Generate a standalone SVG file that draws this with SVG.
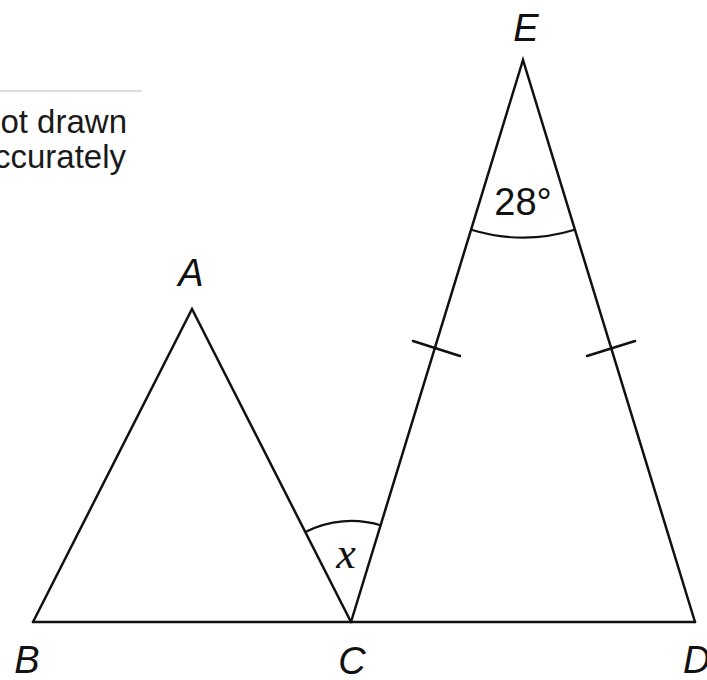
<svg xmlns="http://www.w3.org/2000/svg" width="707" height="680" viewBox="0 0 707 680">
<style>
.ln{stroke:#111;stroke-width:2.5;fill:none;stroke-linecap:round;stroke-linejoin:miter}
.arc{stroke:#111;stroke-width:2.2;fill:none}
.lbl{font-family:"Liberation Sans",Arial,sans-serif;font-style:italic;font-size:38px;fill:#111}
.note{font-family:"Liberation Sans",Arial,sans-serif;font-size:33px;fill:#1a1a1a}
</style>
<rect width="707" height="680" fill="#fff"/>
<line x1="0" y1="91" x2="142" y2="91" stroke="#ddd" stroke-width="2"/>
<text class="note" x="127" y="133" text-anchor="end">ot drawn</text>
<text class="note" x="126" y="168" text-anchor="end">ccurately</text>
<g id="connectors">
<polyline class="ln" points="33,622 192,309 351,622"/>
<polyline class="ln" points="351,622 523,60 695,622"/>
<line class="ln" x1="33" y1="622" x2="695" y2="622"/>
<line class="ln" x1="413" y1="341" x2="460" y2="356"/>
<line class="ln" x1="587" y1="356" x2="635" y2="341"/>
<path class="arc" d="M305.3,532 A101,101 0 0 1 381.3,525.5"/>
<path class="arc" d="M471.3,229.8 A177.5,177.5 0 0 0 574.7,229.8"/>
</g>
<g id="node-A"><text class="lbl" x="191" y="286" text-anchor="middle">A</text></g>
<g id="node-B"><text class="lbl" x="27" y="673" text-anchor="middle">B</text></g>
<g id="node-C"><text class="lbl" x="352" y="674" text-anchor="middle">C</text></g>
<g id="node-D"><text class="lbl" x="683" y="673">D</text></g>
<g id="node-E"><text class="lbl" x="526" y="41" text-anchor="middle">E</text></g>
<text x="523" y="215" text-anchor="middle" font-family="Liberation Sans,Arial,sans-serif" font-size="38" fill="#111">28°</text>
<text x="346" y="568" text-anchor="middle" font-family="Liberation Serif,Times New Roman,serif" font-style="italic" font-size="44" fill="#111">x</text>
</svg>
